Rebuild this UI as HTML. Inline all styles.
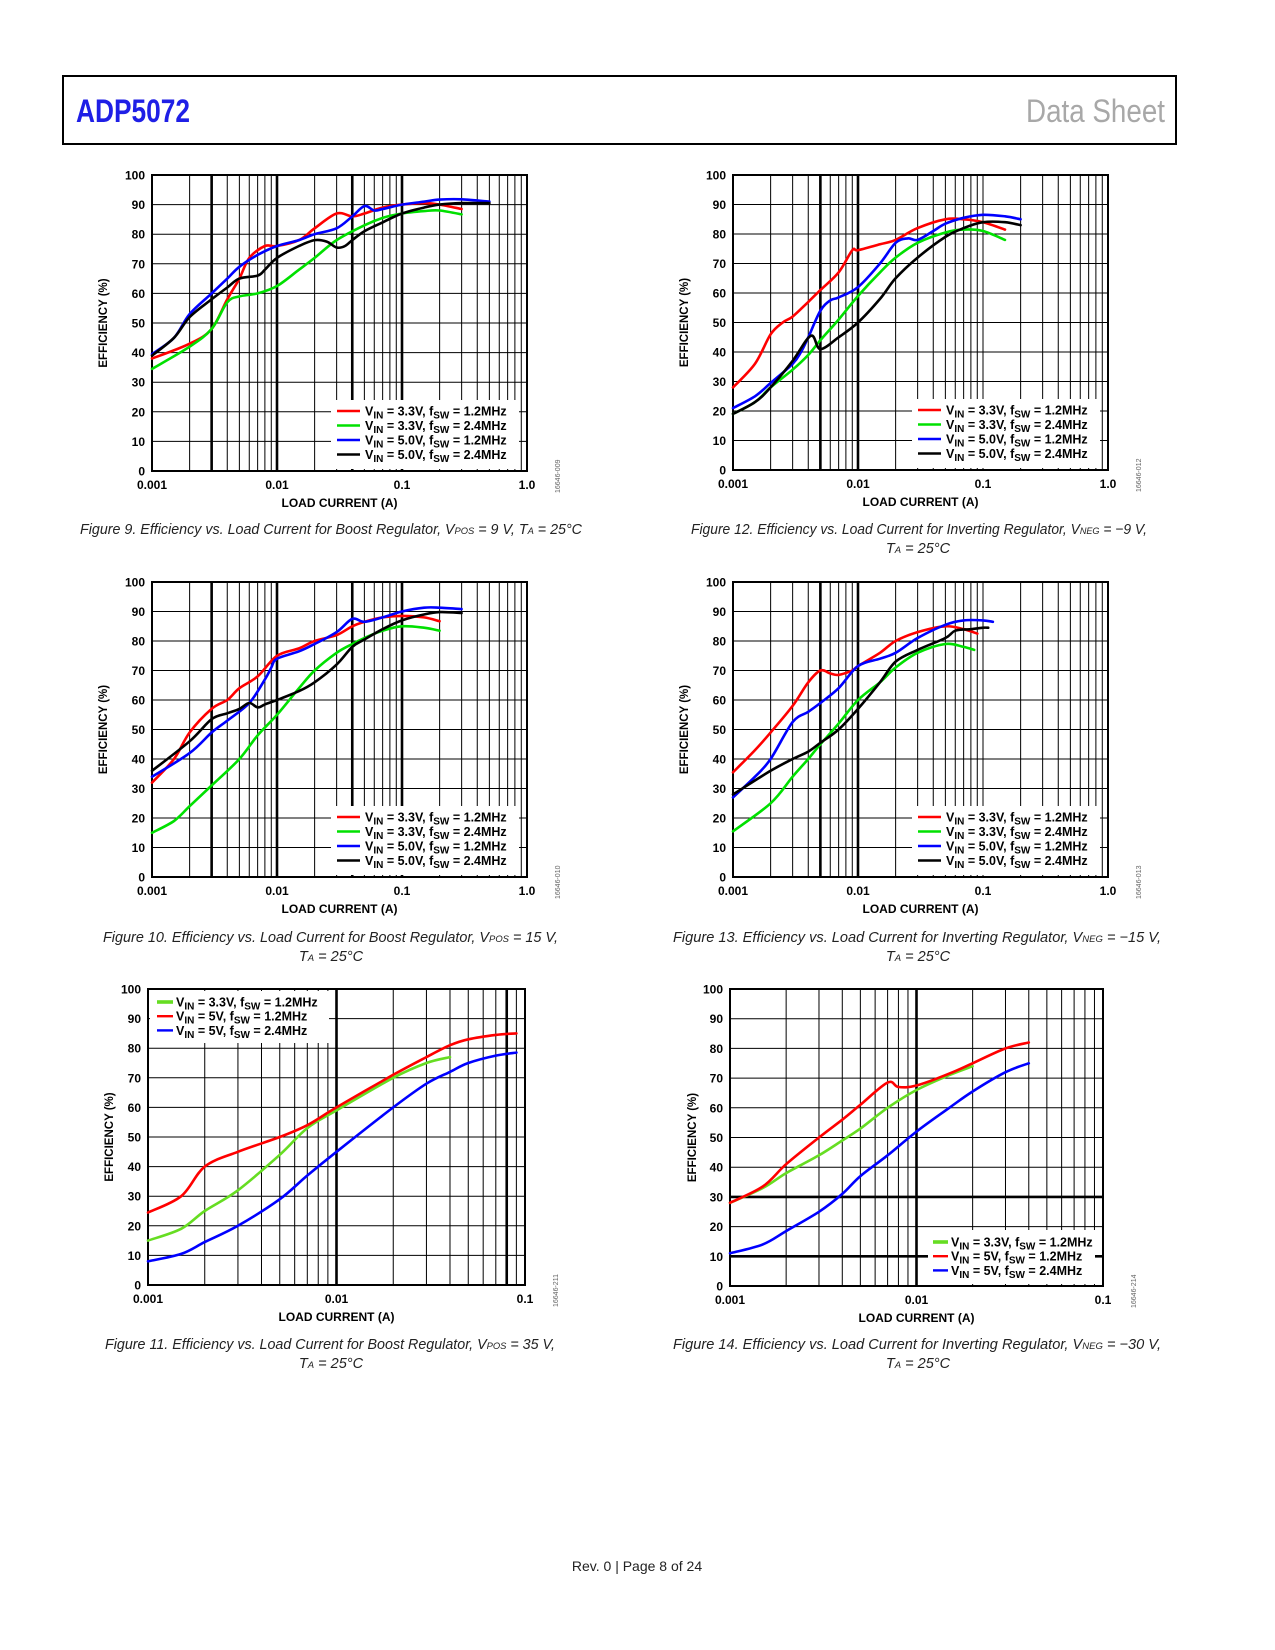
<!DOCTYPE html>
<html><head><meta charset="utf-8"><style>
html,body{margin:0;padding:0;background:#fff;}
svg{display:block;font-family:"Liberation Sans",Arial,sans-serif;}
</style></head><body>
<svg id="page" xmlns="http://www.w3.org/2000/svg" width="1275" height="1650" viewBox="0 0 1275 1650">
<rect x="63" y="76" width="1113" height="68" fill="none" stroke="#000" stroke-width="2"/>
<text x="76" y="122" textLength="114" lengthAdjust="spacingAndGlyphs" font-family="'Liberation Sans Narrow','Liberation Sans',sans-serif" font-weight="bold" font-size="32" fill="#1f1fe6">ADP5072</text>
<text x="1026" y="122" textLength="139" lengthAdjust="spacingAndGlyphs" font-family="'Liberation Sans Narrow','Liberation Sans',sans-serif" font-size="32" fill="#a8a8a8">Data Sheet</text>
<text x="637" y="1571" text-anchor="middle" font-size="14" fill="#222">Rev. 0 | Page 8 of 24</text>
<g id="charts"></g>
</svg>
<script>
// ---- data arrays: [load current (A), efficiency (%)] ----
const fig9Red=[[0.001,38],[0.002,43],[0.003,48],[0.004,58],[0.005,65],[0.006,72],[0.008,76],[0.01,76],[0.015,78],[0.02,82],[0.03,87],[0.04,86],[0.05,87],[0.07,89],[0.1,90],[0.15,90.5],[0.2,90],[0.3,88.5]];
const fig9Green=[[0.001,34.5],[0.002,42],[0.003,48],[0.004,57],[0.005,59],[0.007,60],[0.01,62.5],[0.015,68],[0.02,72],[0.03,78],[0.05,83],[0.07,85.5],[0.1,87],[0.15,87.8],[0.2,88],[0.3,86.7]];
const fig9Blue=[[0.001,39.5],[0.0015,45],[0.002,53],[0.003,60],[0.004,65],[0.005,69],[0.007,73],[0.01,76],[0.015,78],[0.02,80],[0.03,82],[0.04,86],[0.05,89.5],[0.06,88],[0.07,88.5],[0.1,90],[0.15,91],[0.2,91.7],[0.3,91.8],[0.5,91]];
const fig9Black=[[0.001,39],[0.0015,45],[0.002,52],[0.003,58],[0.004,62],[0.005,65],[0.007,66],[0.008,68],[0.01,72],[0.015,76],[0.02,78],[0.025,77.5],[0.03,75.5],[0.035,76],[0.04,78],[0.05,81],[0.07,84],[0.1,87],[0.15,89],[0.2,90],[0.3,90.5],[0.5,90.5]];

const fig10Red=[[0.001,32],[0.0015,40],[0.002,49],[0.003,57],[0.004,60],[0.005,64],[0.007,68],[0.01,75],[0.015,77.5],[0.02,80],[0.03,82],[0.04,85],[0.05,86.5],[0.07,88],[0.1,88.5],[0.15,88],[0.2,86.7]];
const fig10Green=[[0.001,15],[0.0015,19],[0.002,24],[0.003,31],[0.005,40],[0.007,48],[0.01,55],[0.015,64],[0.02,70],[0.03,76],[0.04,79],[0.05,81],[0.07,83.5],[0.1,85],[0.15,84.5],[0.2,83.5]];
const fig10Blue=[[0.001,34],[0.002,42],[0.003,49],[0.004,53],[0.006,59],[0.008,67],[0.009,71],[0.01,74],[0.015,76.5],[0.02,79],[0.03,83],[0.04,87.5],[0.05,86.5],[0.07,88],[0.1,90],[0.15,91.3],[0.2,91.3],[0.3,90.8]];
const fig10Black=[[0.001,36],[0.002,46],[0.003,53.5],[0.004,55.5],[0.005,57],[0.006,59],[0.007,57.5],[0.008,58.5],[0.01,60],[0.015,63],[0.02,66],[0.03,72],[0.04,78],[0.05,80.5],[0.07,84],[0.1,87],[0.15,89],[0.2,89.8],[0.3,89.5]];

const fig11Green=[[0.001,15],[0.0015,19],[0.002,25],[0.003,32],[0.005,44],[0.007,53],[0.01,59],[0.02,70],[0.03,75],[0.04,77]];
const fig11Red=[[0.001,24.5],[0.0015,30],[0.002,40],[0.003,45],[0.005,50],[0.007,54],[0.01,60],[0.02,71],[0.03,77],[0.04,81],[0.05,83],[0.07,84.5],[0.09,85]];
const fig11Blue=[[0.001,8],[0.0015,10.5],[0.002,14.5],[0.003,20],[0.005,29],[0.007,37],[0.01,45],[0.02,60],[0.03,68],[0.04,72],[0.05,75],[0.07,77.5],[0.09,78.5]];

const fig12Red=[[0.001,28],[0.0015,36],[0.002,46],[0.0025,50],[0.003,52],[0.004,57],[0.005,61],[0.007,67],[0.009,74.5],[0.01,74.5],[0.015,76.5],[0.02,78],[0.03,82],[0.05,85],[0.07,85],[0.1,84],[0.15,81.5]];
const fig12Green=[[0.001,19],[0.0015,23],[0.002,28],[0.003,34],[0.004,39],[0.005,44],[0.007,51],[0.01,59],[0.015,67],[0.02,72],[0.03,77],[0.05,80.5],[0.07,81.5],[0.1,81],[0.15,78]];
const fig12Blue=[[0.001,21],[0.0015,25],[0.002,29.5],[0.003,36],[0.0035,40],[0.004,45],[0.005,54],[0.006,57.5],[0.007,58.5],[0.01,62],[0.015,70],[0.02,77],[0.025,78.5],[0.03,78],[0.04,81],[0.05,83.5],[0.07,85.5],[0.1,86.5],[0.15,86],[0.2,85]];
const fig12Black=[[0.001,19],[0.0015,23],[0.002,28],[0.003,37],[0.0042,45.5],[0.005,41],[0.007,45],[0.01,50],[0.015,58],[0.02,65],[0.03,72],[0.05,79],[0.07,82],[0.1,84],[0.15,84],[0.2,83]];

const fig13Red=[[0.001,35.5],[0.0015,43],[0.002,49],[0.003,58],[0.004,66],[0.005,70],[0.006,69],[0.007,68.5],[0.009,70],[0.01,71.5],[0.015,76],[0.02,80],[0.03,83],[0.05,85],[0.07,84],[0.09,82.5]];
const fig13Green=[[0.001,15.5],[0.002,25],[0.003,34],[0.004,40],[0.005,45],[0.007,52],[0.01,60],[0.015,66],[0.02,71],[0.03,76],[0.05,79],[0.07,78],[0.085,77]];
const fig13Blue=[[0.001,27],[0.0015,34],[0.002,40],[0.003,52.5],[0.004,56],[0.005,59],[0.007,64],[0.01,71.5],[0.015,74],[0.02,76],[0.03,81],[0.05,85.5],[0.07,87],[0.1,87],[0.12,86.5]];
const fig13Black=[[0.001,28],[0.002,36],[0.003,40],[0.004,42.5],[0.005,45.5],[0.007,50],[0.01,57],[0.015,66],[0.02,73],[0.03,77],[0.05,81],[0.06,83.5],[0.08,84],[0.1,84.5],[0.11,84.5]];

const fig14Green=[[0.001,28],[0.0015,33],[0.002,38],[0.003,44],[0.004,49],[0.005,53],[0.007,60],[0.01,66],[0.015,71],[0.02,74]];
const fig14Red=[[0.001,28],[0.0015,33.5],[0.002,41],[0.003,50],[0.004,56],[0.005,61],[0.007,68.5],[0.008,67],[0.01,67.5],[0.015,71.5],[0.02,75],[0.03,80],[0.04,82]];
const fig14Blue=[[0.001,11],[0.0015,14],[0.002,18.5],[0.003,25],[0.004,31],[0.005,37],[0.007,44],[0.01,52],[0.015,60],[0.02,65.5],[0.03,72],[0.04,75]];

const yTicks=[0,10,20,30,40,50,60,70,80,90,100];
const xTicks3=['0.001','0.01','0.1','1.0'];
const xTicks2=['0.001','0.01','0.1'];
const legend4=[['3.3V','1.2MHz'],['3.3V','2.4MHz'],['5.0V','1.2MHz'],['5.0V','2.4MHz']];
const legend3=[['3.3V','1.2MHz'],['5V','1.2MHz'],['5V','2.4MHz']];

const RED='#ff0000',GRN='#00e000',BLU='#0000ff',BLK='#000000',LGRN='#66dd22';
const charts=[
 {id:'fig9',L:152,T:175,R:527,B:471,dec:3,thickX:[0.003,0.01,0.04,0.1],thickY:[],leg:'br',legItems:legend4,series:[[fig9Red,RED,'red'],[fig9Green,GRN,'green'],[fig9Blue,BLU,'blue'],[fig9Black,BLK,'black']],code:'16646-009',ytOff:49},
 {id:'fig10',L:152,T:582,R:527,B:877,dec:3,thickX:[0.003,0.01,0.04,0.1],thickY:[],leg:'br',legItems:legend4,series:[[fig10Red,RED,'red'],[fig10Green,GRN,'green'],[fig10Blue,BLU,'blue'],[fig10Black,BLK,'black']],code:'16646-010',ytOff:49},
 {id:'fig11',L:148,T:989,R:525,B:1285,dec:2,thickX:[0.01,0.08],thickY:[],leg:'tl',legItems:legend3,series:[[fig11Green,LGRN,'green'],[fig11Red,RED,'red'],[fig11Blue,BLU,'blue']],code:'16646-211',ytOff:39},
 {id:'fig12',L:733,T:175,R:1108,B:470,dec:3,thickX:[0.005,0.01],thickY:[],leg:'br',legItems:legend4,series:[[fig12Red,RED,'red'],[fig12Green,GRN,'green'],[fig12Blue,BLU,'blue'],[fig12Black,BLK,'black']],code:'16646-012',ytOff:49},
 {id:'fig13',L:733,T:582,R:1108,B:877,dec:3,thickX:[0.005,0.01],thickY:[],leg:'br',legItems:legend4,series:[[fig13Red,RED,'red'],[fig13Green,GRN,'green'],[fig13Blue,BLU,'blue'],[fig13Black,BLK,'black']],code:'16646-013',ytOff:49},
 {id:'fig14',L:730,T:989,R:1103,B:1286,dec:2,thickX:[0.01],thickY:[30,10],leg:'br3',legItems:legend3,series:[[fig14Green,LGRN,'green'],[fig14Red,RED,'red'],[fig14Blue,BLU,'blue']],code:'16646-214',ytOff:38}
];
const captions=[
 {name:'figure-9-caption',x:80,y:534,w:502,lines:[[['Figure 9. Efficiency vs. Load Current for Boost Regulator, V',0],['POS',1],[' = 9 V, T',0],['A',1],[' = 25°C',0]]]},
 {name:'figure-12-caption',x:691,y:534,w:456,lines:[[['Figure 12. Efficiency vs. Load Current for Inverting Regulator, V',0],['NEG',1],[' = −9 V,',0]]]},
 {name:'figure-10-caption',x:103,y:942,w:455,lines:[[['Figure 10. Efficiency vs. Load Current for Boost Regulator, V',0],['POS',1],[' = 15 V,',0]]]},
 {name:'figure-13-caption',x:673,y:942,w:488,lines:[[['Figure 13. Efficiency vs. Load Current for Inverting Regulator, V',0],['NEG',1],[' = −15 V,',0]]]},
 {name:'figure-11-caption',x:105,y:1349,w:450,lines:[[['Figure 11. Efficiency vs. Load Current for Boost Regulator, V',0],['POS',1],[' = 35 V,',0]]]},
 {name:'figure-14-caption',x:673,y:1349,w:488,lines:[[['Figure 14. Efficiency vs. Load Current for Inverting Regulator, V',0],['NEG',1],[' = −30 V,',0]]]}
];
const taLines=[[918,553],[331,961],[918,961],[331,1368],[918,1368]];

const NS='http://www.w3.org/2000/svg';
const root=document.getElementById('charts');
function mk(tag,attrs,parent){const e=document.createElementNS(NS,tag);for(const k in attrs)e.setAttribute(k,attrs[k]);(parent||root).appendChild(e);return e;}
function smooth(pts){let d='M'+pts[0][0].toFixed(1)+','+pts[0][1].toFixed(1);
 for(let i=0;i<pts.length-1;i++){const p0=pts[i-1]||pts[i],p1=pts[i],p2=pts[i+1],p3=pts[i+2]||p2;
  const c1=[p1[0]+(p2[0]-p0[0])/6,p1[1]+(p2[1]-p0[1])/6],c2=[p2[0]-(p3[0]-p1[0])/6,p2[1]-(p3[1]-p1[1])/6];
  d+='C'+c1[0].toFixed(1)+','+c1[1].toFixed(1)+' '+c2[0].toFixed(1)+','+c2[1].toFixed(1)+' '+p2[0].toFixed(1)+','+p2[1].toFixed(1);}
 return d;}
function legendText(parent,x,y,v,f){const t=mk('text',{x:x,y:y,'font-size':12.5,'font-weight':'bold'},parent);
 t.innerHTML='V<tspan font-size="10" dy="3">IN</tspan><tspan dy="-3"> = '+v+', f</tspan><tspan font-size="10" dy="3">SW</tspan><tspan dy="-3"> = '+f+'</tspan>';return t;}

charts.forEach(c=>{
 const g=mk('g',{});
 
 
 const W=c.R-c.L,H=c.B-c.T;
 const xs=v=>c.L+(Math.log10(v)+3)/c.dec*W;
 const ys=v=>c.B-v/100*H;
 const grid=mk('g',{stroke:'#000'},g);
 
 
 for(let d=0;d<c.dec;d++)for(let m=1;m<=9;m++){const v=Math.pow(10,d-3)*m;const x=xs(v);
  const thick=c.thickX.some(t=>Math.abs(t/v-1)<1e-6);
  mk('line',{x1:x,x2:x,y1:c.T,y2:c.B,'stroke-width':thick?2.6:1},grid);}
 yTicks.forEach(v=>{const y=ys(v);mk('line',{x1:c.L,x2:c.R,y1:y,y2:y,'stroke-width':c.thickY.includes(v)?2.6:1},grid);});
 let lg;
 if(c.leg==='br'){lg=mk('rect',{x:c.R-196,y:c.B-71,width:188,height:69,fill:'#fff'},g);}
 else if(c.leg==='tl'){lg=mk('rect',{x:c.L+2,y:c.T+2,width:327-c.L,height:52,fill:'#fff'},g);}
 else {lg=mk('rect',{x:c.R-175,y:c.B-56,width:167,height:54,fill:'#fff'},g);}
 
 
 const fr=mk('rect',{x:c.L,y:c.T,width:W,height:H,fill:'none',stroke:'#000','stroke-width':2},g);
 
 
 c.series.forEach(s=>{const pts=s[0].map(p=>[xs(p[0]),ys(p[1])]);
  const p=mk('path',{d:smooth(pts),fill:'none',stroke:s[1],'stroke-width':2.6,'stroke-linejoin':'round','stroke-linecap':'round'},g);
  
  });
 yTicks.forEach(v=>{const t=mk('text',{x:c.L-7,y:ys(v)+4.5,'text-anchor':'end','font-size':12,'font-weight':'bold'},g);t.textContent=v;
  
  });
 const xl=c.dec===3?xTicks3:xTicks2;
 xl.forEach((lab,i)=>{const t=mk('text',{x:c.L+i*W/c.dec,y:c.B+18,'text-anchor':'middle','font-size':12,'font-weight':'bold'},g);t.textContent=lab;
  
  });
 const xt=mk('text',{x:(c.L+c.R)/2,y:c.B+36,'text-anchor':'middle','font-size':12,'font-weight':'bold'},g);xt.textContent='LOAD CURRENT (A)';
 
 
 const yx=c.L-c.ytOff,yy=(c.T+c.B)/2;
 const yt=mk('text',{x:yx,y:yy,'text-anchor':'middle','font-size':11.5,'font-weight':'bold',transform:'rotate(-90 '+yx+' '+yy+')',dy:4},g);yt.textContent='EFFICIENCY (%)';
 
 
 const cx=c.R+33,cy=c.B+22;
 const ct=mk('text',{x:cx,y:cy,'font-size':7,fill:'#666',transform:'rotate(-90 '+cx+' '+cy+')'},g);ct.textContent=c.code;
 
 
 c.legItems.forEach((it,i)=>{let lx1,lx2,tx,ty;
  if(c.leg==='br'){ty=c.B-60+i*14.5;lx1=c.R-190;lx2=c.R-167;tx=c.R-162;}
  else if(c.leg==='tl'){ty=c.T+13+i*14.2;lx1=c.L+9;lx2=c.L+25;tx=c.L+28;}
  else{ty=c.B-44+i*14.2;lx1=c.R-170;lx2=c.R-155;tx=c.R-152;}
  const e=mk('g',{},g);
  
  
  mk('line',{x1:lx1,x2:lx2,y1:ty,y2:ty,stroke:c.series[i][1],'stroke-width':c.series[i][1]===LGRN?3.6:2.4},e);
  legendText(e,tx,ty+4.5,it[0],it[1]);});
});
captions.forEach(cp=>{const t=mk('text',{x:cp.x,y:cp.y,'font-size':14.5,'font-style':'italic',fill:'#222',textLength:cp.w,lengthAdjust:'spacingAndGlyphs'});
 
 
 let h='';cp.lines[0].forEach(s=>{h+=s[1]?'<tspan font-size="9.5">'+s[0]+'</tspan>':'<tspan>'+s[0]+'</tspan>';});t.innerHTML=h;});
taLines.forEach(p=>{const t=mk('text',{x:p[0],y:p[1],'text-anchor':'middle','font-size':14.5,'font-style':'italic',fill:'#222'});
 
 
 t.innerHTML='T<tspan font-size="9.5">A</tspan> = 25°C';});
</script>
</body></html>
